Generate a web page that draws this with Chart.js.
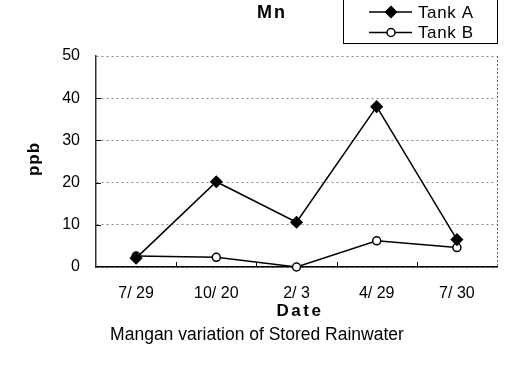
<!DOCTYPE html>
<html>
<head>
<meta charset="utf-8">
<script src="https://cdn.jsdelivr.net/npm/chart.js@4/dist/chart.umd.min.js"></script>
<style>
    body { margin: 0; background: #fff; }
</style>
</head>
<body>
<canvas id="graficoMn" width="506" height="368"></canvas>
<script>
// dados
const datas = ["7/ 29", "10/ 20", "2/ 3", "4/ 29", "7/ 30"];
const tanqueA = [2.1, 20.2, 10.6, 38, 6.5];
const tanqueB = [2.6, 2.3, 0, 6.2, 4.6];
const ticksY = [0, 10, 20, 30, 40, 50];

const fonte = "'Liberation Sans', Arial, sans-serif";

// desenha titulos, legenda, legenda de baixo, marcas internas e borda direita
const extras = {
    id: "extras",
    afterDraw(chart) {
        const ctx = chart.ctx;
        const area = chart.chartArea;
        const x = chart.scales.x;
        const y = chart.scales.y;
        ctx.save();

        // borda direita pontilhada
        ctx.strokeStyle = "#666";
        ctx.lineWidth = 1;
        ctx.setLineDash([2, 2]);
        ctx.beginPath();
        ctx.moveTo(area.right + 0.5, area.top);
        ctx.lineTo(area.right + 0.5, area.bottom);
        ctx.stroke();
        ctx.setLineDash([]);

        // marcas internas no eixo x
        ctx.strokeStyle = "#000";
        for (let i = 1; i < datas.length; i++) {
            const px = Math.round((x.getPixelForTick(i - 1) + x.getPixelForTick(i)) / 2) + 0.5;
            ctx.beginPath();
            ctx.moveTo(px, area.bottom);
            ctx.lineTo(px, area.bottom - 5);
            ctx.stroke();
        }
        // marcas internas no eixo y
        for (let j = 1; j < ticksY.length - 1; j++) {
            const py = Math.round(y.getPixelForValue(ticksY[j])) + 0.5;
            ctx.beginPath();
            ctx.moveTo(area.left, py);
            ctx.lineTo(area.left + 5, py);
            ctx.stroke();
        }

        // titulo
        ctx.fillStyle = "#000";
        ctx.font = "bold 18px " + fonte;
        ctx.letterSpacing = "2px";
        ctx.textAlign = "center";
        ctx.textBaseline = "middle";
        ctx.fillText("Mn", 272, 13);

        // titulo do eixo x
        ctx.font = "bold 17px " + fonte;
        ctx.letterSpacing = "2.5px";
        ctx.fillText("Date", 300, 311);

        // titulo do eixo y
        ctx.save();
        ctx.translate(34, 159);
        ctx.rotate(-Math.PI / 2);
        ctx.letterSpacing = "1px";
        ctx.fillText("ppb", 0, 0);
        ctx.restore();

        // caixa da legenda
        ctx.lineWidth = 1;
        ctx.strokeStyle = "#000";
        ctx.strokeRect(343.5, -1.5, 154, 45);
        ctx.font = "17px " + fonte;
        ctx.letterSpacing = "0.6px";
        ctx.textAlign = "left";
        chart.data.datasets.forEach((ds, k) => {
            const ly = 12 + k * 20.5;
            ctx.strokeStyle = "#000";
            ctx.lineWidth = 1.5;
            ctx.beginPath();
            ctx.moveTo(369, ly);
            ctx.lineTo(412, ly);
            ctx.stroke();
            desenharMarcador(ctx, ds, 391, ly);
            ctx.fillStyle = "#000";
            ctx.fillText(ds.label, 418, ly + 1);
        });

        // legenda de baixo
        ctx.font = "17.5px " + fonte;
        ctx.letterSpacing = "0px";
        ctx.textAlign = "center";
        ctx.fillText("Mangan variation of Stored Rainwater", 257, 335);
        ctx.restore();
    }
};

function desenharMarcador(ctx, ds, mx, my) {
    ctx.lineWidth = 1.5;
    ctx.strokeStyle = "#000";
    ctx.fillStyle = ds.pointBackgroundColor;
    ctx.beginPath();
    if (ds.pointStyle === "rectRot") {
        const r = ds.pointRadius;
        ctx.moveTo(mx, my - r);
        ctx.lineTo(mx + r, my);
        ctx.lineTo(mx, my + r);
        ctx.lineTo(mx - r, my);
        ctx.closePath();
    } else {
        ctx.arc(mx, my, ds.pointRadius, 0, Math.PI * 2);
    }
    ctx.fill();
    ctx.stroke();
}

const ctx = document.getElementById("graficoMn").getContext("2d");
const chart = new Chart(ctx, {
    type: "line",
    data: {
        labels: datas,
        datasets: [
            {
                label: "Tank A",
                data: tanqueA,
                borderColor: "#000",
                borderWidth: 1.5,
                pointStyle: "rectRot",
                pointRadius: 5.5,
                pointBackgroundColor: "#000",
                pointBorderColor: "#000",
                clip: false,
                tension: 0
            },
            {
                label: "Tank B",
                data: tanqueB,
                borderColor: "#000",
                borderWidth: 1.5,
                pointStyle: "circle",
                pointRadius: 4,
                pointBackgroundColor: "#fff",
                pointBorderColor: "#000",
                pointBorderWidth: 1.5,
                clip: false,
                tension: 0
            }
        ]
    },
    options: {
        responsive: false,
        devicePixelRatio: 1,
        animation: false,
        layout: {
            padding: { top: 56, right: 9, bottom: 44, left: 0 }
        },
        plugins: {
            legend: { display: false },
            tooltip: { enabled: false }
        },
        scales: {
            x: {
                offset: true,
                grid: { drawOnChartArea: false, drawTicks: false },
                border: { color: "#000", width: 1.5 },
                ticks: {
                    color: "#000",
                    font: { family: fonte, size: 16 },
                    padding: 17,
                    maxRotation: 0
                },
                afterFit(scale) { scale.height = 57; }
            },
            y: {
                min: 0,
                max: 50,
                afterBuildTicks(scale) {
                    scale.ticks = ticksY.map(v => ({ value: v }));
                },
                grid: { color: "#888", lineWidth: 1, drawTicks: false },
                border: { color: "#333", width: 1.5, dash: [2, 3] },
                ticks: {
                    color: "#000",
                    font: { family: fonte, size: 16 },
                    padding: 16
                },
                afterFit(scale) { scale.width = 96; }
            }
        }
    },
    plugins: [extras]
});
</script>
</body>
</html>
